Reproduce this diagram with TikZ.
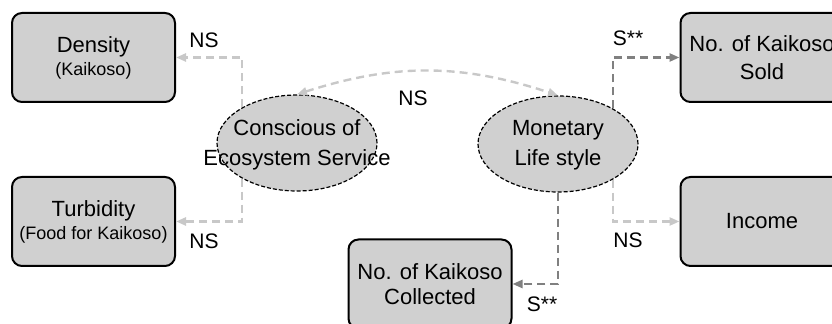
\documentclass[tikz,border=0pt]{standalone}
\usepackage{fontspec}
\setmainfont{Liberation Sans}
\usetikzlibrary{shapes.geometric,arrows.meta}
\definecolor{boxgray}{RGB}{208,208,208}
\definecolor{nsgray}{RGB}{200,200,200}
\definecolor{sgray}{RGB}{128,128,128}
\newcommand{\subtxt}[1]{{\fontsize{9}{11}\selectfont #1}}

\begin{document}
\begin{tikzpicture}[x=0.5pt,y=0.5pt]
\tikzstyle{every node}+=[inner sep=0pt, font=\fontsize{11}{14}\selectfont]
\tikzstyle{varbox}=[draw=black, line width=1pt, rounded corners=5pt, fill=boxgray, minimum width=81.5pt, minimum height=44.5pt, align=center]
\tikzstyle{latent}=[draw=black, ellipse, dash pattern=on 2pt off 1pt, line width=0.6pt, fill=boxgray, minimum width=80pt, minimum height=48pt]
\tikzstyle{latenttext}=[align=center, font=\fontsize{11}{15}\selectfont]
\tikzstyle{nsline}=[draw=nsgray, line width=1.2pt, dash pattern=on 4pt off 2.5pt, -{Triangle[length=5pt,width=4pt]}]
\tikzstyle{sline}=[nsline, draw=sgray]
\tikzstyle{sig}=[font=\fontsize{10.5}{12}\selectfont]
\useasboundingbox (0,0) rectangle (832,-324);
% observed variables
\node[varbox] (dens) at (93.5,-57.5) {Density\\[-2.5pt]\subtxt{(Kaikoso)}};
\node[varbox] (turb) at (93.5,-221.5) {Turbidity\\[-2.5pt]\subtxt{(Food for Kaikoso)}};
\node[varbox] (sold) at (762,-57.5) {No. of Kaikoso\\Sold};
\node[varbox] (inc) at (762,-221.5) {Income};
\node[varbox] (coll) at (430,-284) {No. of Kaikoso\\[-1.5pt]Collected};
% latent variables
\node[latent] (cons) at (297,-143) {};
\node[latenttext] (consT) at (297,-145) {Conscious of\\Ecosystem Service};
\node[latent] (mon) at (558,-144) {};
\node[latenttext] (monT) at (558,-145) {Monetary\\Life style};
% paths
\draw[nsline] (cons.147) |- (dens.east);
\draw[nsline] (cons.213) |- (turb.east);
\draw[sline] (mon.33) |- (sold.west);
\draw[nsline] (mon.-33) |- (inc.west);
\draw[sline] (mon.south) |- (coll.east);
\draw[nsline, {Triangle[length=5pt,width=4pt]}-{Triangle[length=5pt,width=4pt]}] (cons.north) to[bend left=18] (mon.north);
% significance
\node[sig] (nsA) at (204,-40) {NS};
\node[sig] (nsB) at (204,-241) {NS};
\node[sig] (nsC) at (413,-98) {NS};
\node[sig] (sA) at (628,-38) {S**};
\node[sig] (nsD) at (628,-240) {NS};
\node[sig] (sB) at (542,-304) {S**};
\end{tikzpicture}
\end{document}
